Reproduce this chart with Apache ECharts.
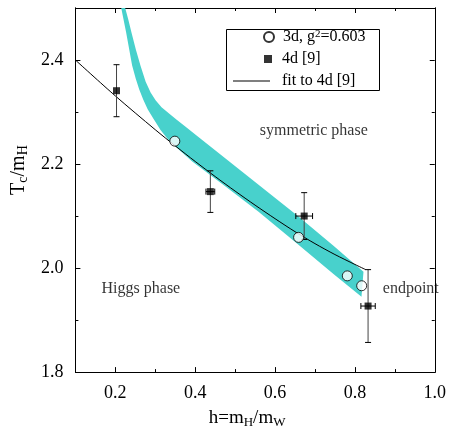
<!DOCTYPE html>
<html>
<head>
<meta charset="utf-8">
<script src="https://cdn.jsdelivr.net/npm/echarts@6.0.0/dist/echarts.min.js"></script>
<style>
  html, body { margin: 0; padding: 0; background: #fff; }
  #chart { width: 449px; height: 434px; }
</style>
</head>
<body>
<div id="chart"></div>
<script>
// 3d results (open circles)
const h3d  = [0.349, 0.659, 0.781, 0.817]
const tc3d = [2.244, 2.059, 1.985, 1.966]

// 4d results [9] (filled squares with error bars)
const h4d     = [0.203, 0.438, 0.673, 0.833]
const tc4d    = [2.341, 2.147, 2.100, 1.927]
const h4dErr  = [0.000, 0.011, 0.021, 0.018]
const tc4dErr = [0.050, 0.040, 0.045, 0.070]

// fit to 4d [9]
const fitH  = [0.10, 0.20, 0.30, 0.35, 0.40, 0.45, 0.50, 0.55, 0.60, 0.65, 0.70, 0.75, 0.80, 0.827]
const fitTc = [2.400, 2.331, 2.266, 2.235, 2.205, 2.176, 2.148, 2.121, 2.095, 2.070, 2.047, 2.026, 2.007, 1.997]

// 3d band, upper (right) and lower (left) edge
const bandUpper = [
  [0.2247, 2.500], [0.2326, 2.4776], [0.2406, 2.4525], [0.2512, 2.4209], [0.2629, 2.3893],
  [0.2760, 2.3584], [0.2884, 2.3376], [0.3008, 2.3225], [0.3157, 2.3092], [0.3331, 2.2979],
  [0.3529, 2.2857], [0.3752, 2.2721], [0.4050, 2.2539], [0.4744, 2.2115], [0.5587, 2.1600],
  [0.6579, 2.0995], [0.7471, 2.0423], [0.8215, 1.9931],
]
const bandLower = [
  [0.2148, 2.500], [0.2272, 2.4525], [0.2421, 2.3893], [0.2512, 2.3641], [0.2599, 2.3432],
  [0.2698, 2.3243], [0.2810, 2.3054], [0.2959, 2.2865], [0.3132, 2.2656], [0.3306, 2.2486],
  [0.3504, 2.2335], [0.3926, 2.2051], [0.4744, 2.1577], [0.5587, 2.1085], [0.6579, 2.0451],
  [0.7471, 1.9883], [0.7818, 1.9666], [0.8165, 1.9448],
]

// annotations
const noteText = ['symmetric phase', 'Higgs phase', 'endpoint']
const noteH    = [0.697, 0.264, 0.940]
const noteTc   = [2.263, 1.961, 1.961]

// ticks
const xMajor = [0.2, 0.4, 0.6, 0.8, 1.0]
const xMinor = [0.3, 0.5, 0.7, 0.9]
const yMajor = [1.8, 2.0, 2.2, 2.4]
const yMinor = [1.9, 2.1, 2.3]

const FONT = '"Liberation Serif", "Times New Roman", serif'
const BLACK = '#000'

const axisBase = (pos, ticks, len, labels) => ({
  type: 'value', position: pos,
  axisLine: { show: true, onZero: false, lineStyle: { color: BLACK, width: 1 } },
  axisTick: { show: true, inside: true, length: len, customValues: ticks, lineStyle: { color: BLACK } },
  axisLabel: labels
    ? { show: true, customValues: labels, formatter: v => v.toFixed(1), color: BLACK, fontFamily: FONT, fontSize: 18, margin: 12 }
    : { show: false },
  splitLine: { show: false },
})
const xAx = (pos, ticks, len, labels) => ({ ...axisBase(pos, ticks, len, labels), min: 0.1, max: 1.0 })
const yAx = (pos, ticks, len, labels) => ({ ...axisBase(pos, ticks, len, labels), min: 1.8, max: 2.5 })

const chart = echarts.init(document.getElementById('chart'))

const xAxes = [
  { ...xAx('bottom', xMajor, 5, xMajor),
    name: 'h=m{sub|H}/m{sub|W}', nameLocation: 'middle', nameGap: 33,
    nameTextStyle: { color: BLACK, fontFamily: FONT, fontSize: 19, lineHeight: 22, padding: [0, 16, 0, 0],
      rich: { sub: { fontSize: 13, fontFamily: FONT, verticalAlign: 'bottom', lineHeight: 14 } } } },
  xAx('bottom', xMinor, 3),
  xAx('top', xMajor, 5),
  xAx('top', xMinor, 3),
]
const yAxes = [
  { ...yAx('left', yMajor.slice(1), 5, yMajor),
    name: 'T{sub|c}/m{sub|H}', nameLocation: 'middle', nameGap: 44, nameRotate: 90,
    nameTextStyle: { color: BLACK, fontFamily: FONT, fontSize: 20, lineHeight: 22, padding: [0, 0, 0, 40],
      rich: { sub: { fontSize: 14, fontFamily: FONT, verticalAlign: 'bottom', lineHeight: 14 } } } },
  yAx('left', yMinor, 3),
  yAx('right', yMajor.slice(1), 5),
  yAx('right', yMinor, 3),
]

const legendText = { color: BLACK, fontFamily: FONT, fontSize: 16, lineHeight: 16 }

chart.setOption({
  animation: false,
  backgroundColor: '#fff',
  grid: { left: 72, right: 14, top: 8, bottom: 56 },
  xAxis: xAxes,
  yAxis: yAxes,
  legend: [
    { data: ['3d'], left: 263, top: 29, padding: 0, itemWidth: 10, itemHeight: 10, selectedMode: false,
      formatter: () => '3d, g{sup|2}=0.603',
      textStyle: { ...legendText, padding: [0, 0, 0, 4],
        rich: { sup: { fontSize: 11, fontFamily: FONT, verticalAlign: 'top', lineHeight: 11 } } } },
    { data: ['4d [9]'], left: 264, top: 51, padding: 0, itemWidth: 8, itemHeight: 8, selectedMode: false,
      textStyle: { ...legendText, padding: [0, 0, 0, 5] } },
    { data: [{ name: 'fit to 4d [9]', icon: 'rect' }], left: 233, top: 73, padding: 0, itemWidth: 37, itemHeight: 1,
      selectedMode: false, itemStyle: { color: BLACK },
      textStyle: { ...legendText, padding: [0, 0, 0, 7] } },
  ],
  graphic: [
    { type: 'rect', left: 224, top: 27, shape: { width: 153, height: 61 },
      style: { fill: 'none', stroke: BLACK, lineWidth: 1 }, silent: true },
  ],
  series: [
    {
      name: 'band', type: 'custom', silent: true, z: 1,
      data: [[0.5, 2.1]],
      renderItem: (params, api) => ({
        type: 'polygon',
        shape: { points: bandUpper.concat(bandLower.slice().reverse()).map(p => api.coord(p)) },
        style: { fill: '#48d1cc' },
      }),
    },
    {
      name: 'fit to 4d [9]', type: 'line', symbol: 'none', smooth: 0.3, z: 3,
      data: fitH.map((h, i) => [h, fitTc[i]]),
      lineStyle: { color: BLACK, width: 1 },
      itemStyle: { color: BLACK },
    },
    {
      name: 'errors', type: 'custom', silent: true, z: 4,
      data: h4d.map((h, i) => [h, tc4d[i], h4dErr[i], tc4dErr[i]]),
      renderItem: (params, api) => {
        const x = api.value(0), y = api.value(1), dx = api.value(2), dy = api.value(3)
        const top = api.coord([x, y + dy]), bot = api.coord([x, y - dy])
        const cap = 3
        const st = { stroke: BLACK, lineWidth: 1 }
        const children = [
          { type: 'line', shape: { x1: top[0], y1: top[1], x2: bot[0], y2: bot[1] }, style: { stroke: '#444', lineWidth: 1 } },
          { type: 'line', shape: { x1: top[0] - cap, y1: top[1], x2: top[0] + cap, y2: top[1] }, style: st },
          { type: 'line', shape: { x1: bot[0] - cap, y1: bot[1], x2: bot[0] + cap, y2: bot[1] }, style: st },
        ]
        if (dx > 0) {
          const l = api.coord([x - dx, y]), r = api.coord([x + dx, y])
          children.push(
            { type: 'line', shape: { x1: l[0], y1: l[1], x2: r[0], y2: r[1] }, style: st },
            { type: 'line', shape: { x1: l[0], y1: l[1] - cap, x2: l[0], y2: l[1] + cap }, style: st },
            { type: 'line', shape: { x1: r[0], y1: r[1] - cap, x2: r[0], y2: r[1] + cap }, style: st },
          )
        }
        return { type: 'group', children }
      },
    },
    {
      name: '4d [9]', type: 'scatter', symbol: 'rect', symbolSize: 7, z: 5,
      data: h4d.map((h, i) => [h, tc4d[i]]),
      itemStyle: { color: BLACK },
    },
    {
      name: '3d', type: 'scatter', symbol: 'circle', symbolSize: 10, z: 6,
      data: h3d.map((h, i) => [h, tc3d[i]]),
      itemStyle: { color: '#fff', borderColor: BLACK, borderWidth: 1 },
    },
    {
      name: 'notes', type: 'scatter', symbolSize: 0, silent: true, z: 6,
      data: noteH.map((h, i) => ({ value: [h, noteTc[i]], label: { formatter: noteText[i] } })),
      label: { show: true, position: 'inside', color: BLACK, fontFamily: FONT, fontSize: 16 },
    },
  ],
})
</script>
</body>
</html>
